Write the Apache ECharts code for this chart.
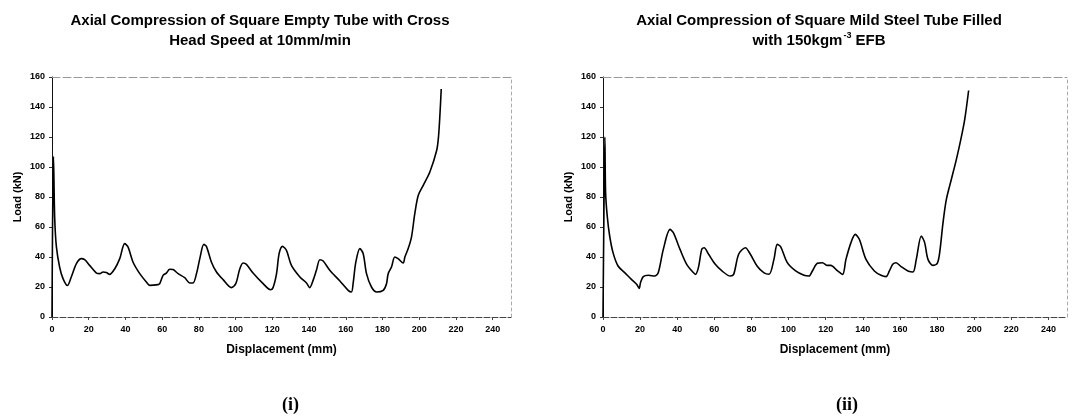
<!DOCTYPE html>
<html>
<head>
<meta charset="utf-8">
<script src="https://cdn.jsdelivr.net/npm/echarts@6/dist/echarts.min.js"></script>
<style>html,body{margin:0;padding:0;background:#fff;}#c{width:1075px;height:418px;}</style>
</head>
<body>
<div id="c"></div>
<script>
// Chart (i): empty tube
const disp1 = [0, 0.3, 0.8, 1.45, 2.4, 4.2, 6, 8.4, 10.5, 13.3, 16, 17.8, 20.5, 24.2, 26, 27.8, 29.6, 31.4, 34.2, 36.9, 39.6, 41.4, 44.1, 47.8, 51.4, 53.2, 57.8, 58.7, 60.5, 62.3, 64.1, 65.9, 68.7, 72.3, 75, 76.8, 78.7, 80.5, 82.7, 84.1, 86.8, 89.6, 93.2, 97.7, 100.1, 102.3, 104.1, 105.9, 109.5, 115, 119, 120.4, 122.3, 123.7, 125.5, 127.7, 130.4, 135, 138.6, 140.4, 142.2, 144, 145.9, 147.7, 151.3, 156.8, 161.3, 163.1, 164, 165.5, 167.7, 169.5, 171.3, 174, 176.8, 180.4, 182.2, 183.1, 184.9, 186.7, 188.5, 191.3, 192.2, 194, 195.8, 197.6, 199.5, 202.2, 205.8, 209.5, 210.5, 211.3, 212];
const load1 = [0, 60, 107, 66.7, 46.7, 33, 25.6, 21, 26.7, 35.6, 38.9, 38.2, 34.4, 29.3, 28.9, 30, 29.6, 28.4, 32.2, 38.9, 48.9, 46.7, 36.7, 28.9, 23.3, 21.1, 21.6, 22.2, 27.8, 29.3, 31.8, 31.6, 28.9, 26.2, 22.7, 22.7, 28.9, 38.9, 48.4, 47.1, 36.7, 30, 24.9, 19.6, 22.2, 32.2, 36, 35.1, 29.3, 22.2, 18.2, 19.6, 28.9, 42.2, 47.1, 44.4, 34.4, 26.7, 22.7, 19.6, 24.4, 31.1, 38.2, 37.3, 31.1, 24, 17.8, 16.7, 22.2, 36.7, 45.6, 42.2, 28.9, 20, 16.7, 17.8, 22.2, 28.9, 33.3, 40, 38.9, 36, 40, 45.6, 53.3, 68.9, 81.1, 87.8, 96.7, 111, 120, 135, 152];
// Chart (ii): tube filled with 150 kg/m3 EFB
const disp2 = [0, 0.5, 1.0, 1.4, 2.3, 3.6, 5.4, 8.1, 11.7, 15.3, 18.1, 19.5, 20.2, 21.7, 24.4, 28, 29.8, 32.5, 36.1, 37.9, 41.5, 45.1, 48.7, 49.8, 51.4, 53.2, 54.5, 56.9, 60.5, 64.1, 68.6, 70.4, 73.1, 76.7, 79.4, 83, 86.6, 89.5, 92.1, 93.9, 95.7, 99.3, 103.8, 108.3, 111, 112.8, 115.5, 118.2, 120.9, 122.7, 126.4, 129.1, 130.9, 133.6, 135.9, 138.1, 141.7, 146.2, 149.8, 152.5, 154.3, 156.1, 157.9, 160.6, 164.3, 167, 168.8, 171.5, 173.3, 175.1, 177.8, 180.1, 181.4, 183.2, 185, 187.7, 190.4, 192.8, 194.9, 197];
const load2 = [0, 70, 120, 83, 67, 54, 42.9, 34, 29.6, 25.1, 21.8, 19.1, 22.9, 26.9, 27.8, 27.3, 29.6, 45.1, 58.4, 56.2, 45.1, 35.1, 29.6, 28.4, 32.9, 45.1, 46.2, 41.8, 35.1, 30.7, 27.3, 28.4, 41.8, 46.2, 41.8, 34, 29.6, 28.5, 38.4, 48.4, 46.9, 36.2, 30.7, 27.8, 27.3, 30.7, 35.8, 36.2, 34.4, 34.4, 30.7, 28.4, 38.4, 49.6, 55.1, 51.8, 38.4, 30.7, 27.8, 26.9, 30.7, 35.1, 36.2, 33.6, 30.7, 30, 38.4, 54, 49.6, 38.4, 34.4, 35.8, 42.9, 62.9, 78.4, 91.8, 105.1, 118.4, 131.8, 151];
const xTicks = {min: 0, max: 250, interval: 20};
const yTicks = {min: 0, max: 160, interval: 20};
const titles = [
  'Axial Compression of Square Empty Tube with Cross\nHead Speed at 10mm/min',
  'Axial Compression of Square Mild Steel Tube Filled\nwith 150kgm{sup|-3} EFB'
];
const panelLabels = ['(i)', '(ii)'];
const xName = 'Displacement (mm)';
const yName = 'Load (kN)';

const FONT = '"Liberation Sans", Arial, sans-serif';
const grids = [
  {left: 52, top: 77, width: 459, height: 240},
  {left: 603, top: 77, width: 464, height: 240}
];
const titleCenters = [260, 819];
const labelCenters = [293, 847];

const pairs = (xs, ys) => xs.map((x, i) => [x, ys[i]]);

const xAxes = [], yAxes = [], series = [], titleOpts = [], graphics = [];
grids.forEach((g, i) => {
  xAxes.push({
    gridIndex: i, type: 'value', position: 'bottom', ...xTicks,
    axisLine: {show: true, onZero: false, lineStyle: {color: '#444', width: 1, type: [6, 2]}},
    axisTick: {show: true, length: 3, lineStyle: {color: '#444'}},
    axisLabel: {fontSize: 9, fontWeight: 'bold', color: '#000', fontFamily: FONT, margin: 8, showMaxLabel: false},
    splitLine: {show: false},
    name: xName, nameLocation: 'middle', nameGap: 27,
    nameTextStyle: {fontSize: 12, fontWeight: 'bold', color: '#000', fontFamily: FONT}
  });
  xAxes.push({
    gridIndex: i, type: 'value', position: 'top', ...xTicks,
    axisLine: {show: true, onZero: false, lineStyle: {color: '#999', width: 1, type: [8, 3]}},
    axisTick: {show: false}, axisLabel: {show: false}, splitLine: {show: false}
  });
  yAxes.push({
    gridIndex: i, type: 'value', position: 'left', ...yTicks,
    axisLine: {show: true, onZero: false, lineStyle: {color: '#111', width: 1}},
    axisTick: {show: true, length: 3, lineStyle: {color: '#333'}},
    axisLabel: {fontSize: 9, fontWeight: 'bold', color: '#000', fontFamily: FONT, margin: 7},
    splitLine: {show: false},
    name: yName, nameLocation: 'middle', nameGap: 29,
    nameTextStyle: {fontSize: 11, fontWeight: 'bold', color: '#000', fontFamily: FONT}
  });
  yAxes.push({
    gridIndex: i, type: 'value', position: 'right', ...yTicks,
    axisLine: {show: true, onZero: false, lineStyle: {color: '#aaa', width: 1, type: [3, 3]}},
    axisTick: {show: false}, axisLabel: {show: false}, splitLine: {show: false}
  });
  titleOpts.push({
    text: titles[i], left: titleCenters[i], top: 11, padding: 0, textAlign: 'center',
    textStyle: {fontSize: 15, fontWeight: 'bold', color: '#000', fontFamily: FONT, lineHeight: 20,
      rich: {sup: {fontSize: 9, fontWeight: 'bold', color: '#000', fontFamily: FONT, verticalAlign: 'top', lineHeight: 20, padding: [0, 0, 0, 1]}}}
  });
  graphics.push({
    type: 'text', left: labelCenters[i] - 11, top: 396,
    style: {text: panelLabels[i], font: 'bold 18px "Liberation Serif", "Times New Roman", serif', fill: '#000', align: 'left'}
  });
});
series.push({
  type: 'line', xAxisIndex: 0, yAxisIndex: 0, data: pairs(disp1, load1),
  showSymbol: false, smooth: 0.3,
  lineStyle: {color: '#000', width: 1.6}, animation: false
});
series.push({
  type: 'line', xAxisIndex: 2, yAxisIndex: 2, data: pairs(disp2, load2),
  showSymbol: false, smooth: 0.3,
  lineStyle: {color: '#000', width: 1.6}, animation: false
});

const chart = echarts.init(document.getElementById('c'), null, {renderer: 'canvas'});
chart.setOption({
  backgroundColor: '#fff',
  animation: false,
  title: titleOpts,
  grid: grids,
  xAxis: xAxes,
  yAxis: yAxes,
  series: series,
  graphic: graphics
});
</script>
</body>
</html>
